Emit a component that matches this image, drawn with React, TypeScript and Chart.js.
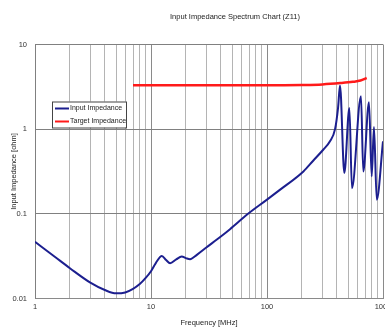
import React, { useEffect, useRef } from "react";
import { Chart, registerables } from "chart.js";

Chart.register(...registerables);

const chartTitle = "Input Impedance Spectrum Chart (Z11)";
const xTitle = "Frequency [MHz]";
const yTitle = "Input Impedance [ohm]";
const seriesNames = ["Input Impedance", "Target Impedance"];

const inputFreq = [1, 1.5, 2, 3, 4, 5, 6, 7, 8, 9, 10, 11, 12.4, 13.5, 14.6, 16.5, 18.4, 20, 21.7, 25, 30, 40, 48, 68.6, 100, 129, 206, 250, 305, 349, 386, 410, 426, 464, 513, 540, 646, 676, 757, 799, 836, 883, 1000];
const inputZ = [0.0467, 0.0307, 0.0228, 0.0154, 0.0126, 0.0115, 0.0118, 0.013, 0.0148, 0.0175, 0.021, 0.0262, 0.0318, 0.0285, 0.0261, 0.029, 0.0313, 0.03, 0.0291, 0.033, 0.04, 0.054, 0.0659, 0.1, 0.147, 0.192, 0.317, 0.424, 0.571, 0.718, 1.0, 1.8, 3.27, 0.303, 1.78, 0.201, 2.44, 0.317, 2.08, 0.277, 1.06, 0.147, 0.718];

const targetFreq = [7, 50, 100, 200, 300, 430, 550, 640, 724];
const targetZ = [3.3, 3.3, 3.3, 3.33, 3.38, 3.5, 3.62, 3.75, 4.02];

const xTickValues = [1, 2, 3, 4, 5, 6, 7, 8, 9, 10, 20, 30, 40, 50, 60, 70, 80, 90, 100, 200, 300, 400, 500, 600, 700, 800, 900, 1000];
const yTickValues = [0.01, 0.1, 1, 10];

const isDecade = (v: number) => Math.abs(Math.log10(v) - Math.round(Math.log10(v))) < 1e-9;
const FONT = "'Liberation Sans', Arial, sans-serif";

const legendPlugin = {
  id: "insideLegend",
  afterDatasetsDraw(chart: any) {
    const { ctx, chartArea } = chart;
    const x = chartArea.left + 17;
    const y = chartArea.top + 57;
    const w = 74;
    const h = 26;
    ctx.save();
    ctx.fillStyle = "#ffffff";
    ctx.fillRect(x, y, w, h);
    ctx.strokeStyle = "#444444";
    ctx.lineWidth = 1;
    ctx.strokeRect(x + 0.5, y + 0.5, w, h);
    ctx.font = `7px ${FONT}`;
    ctx.textBaseline = "middle";
    chart.data.datasets.forEach((ds: any, i: number) => {
      const cy = y + 7 + i * 13;
      ctx.strokeStyle = ds.borderColor;
      ctx.lineWidth = 2;
      ctx.beginPath();
      ctx.moveTo(x + 3, cy);
      ctx.lineTo(x + 17, cy);
      ctx.stroke();
      ctx.fillStyle = "#222222";
      ctx.fillText(ds.label, x + 18, cy);
    });
    ctx.restore();
  },
};

export default function App() {
  const ref = useRef<HTMLCanvasElement>(null);
  useEffect(() => {
    if (!ref.current) return;
    const chart = new Chart(ref.current, {
      type: "line",
      data: {
        datasets: [
          {
            label: seriesNames[0],
            data: inputFreq.map((f, i) => ({ x: f, y: inputZ[i] })),
            borderColor: "#1c1f8f",
            borderWidth: 2,
            pointRadius: 0,
            cubicInterpolationMode: "monotone",
            fill: false,
          },
          {
            label: seriesNames[1],
            data: targetFreq.map((f, i) => ({ x: f, y: targetZ[i] })),
            borderColor: "#ff1a1a",
            borderWidth: 2.5,
            pointRadius: 0,
            cubicInterpolationMode: "monotone",
            fill: false,
          },
        ],
      },
      options: {
        animation: false,
        responsive: false,
        maintainAspectRatio: false,
        layout: { padding: 0 },
        plugins: {
          legend: { display: false },
          tooltip: { enabled: false },
          title: {
            display: true,
            text: chartTitle,
            color: "#222",
            font: { family: FONT, size: 7.5, weight: "normal" },
            padding: { top: 12, bottom: 23.5 },
          },
        },
        scales: {
          x: {
            type: "logarithmic",
            min: 1,
            max: 1000,
            afterBuildTicks: (s: any) => {
              s.ticks = xTickValues.map((v) => ({ value: v }));
            },
            afterFit: (s: any) => {
              s.height = 28.5;
            },
            ticks: {
              autoSkip: false,
              maxRotation: 0,
              padding: 4,
              color: "#333",
              font: { family: FONT, size: 7.5 },
              callback: (v: any) => (isDecade(Number(v)) ? String(Number(v)) : ""),
            },
            grid: {
              drawTicks: false,
              color: (c: any) => (c.tick && isDecade(c.tick.value) ? "#8a8a8a" : "#b4b4b4"),
              lineWidth: 1,
            },
            border: { color: "#8a8a8a" },
            title: {
              display: true,
              text: xTitle,
              color: "#222",
              font: { family: FONT, size: 7.5 },
              padding: { top: 0, bottom: 0 },
            },
          },
          y: {
            type: "logarithmic",
            min: 0.01,
            max: 10,
            afterBuildTicks: (s: any) => {
              s.ticks = yTickValues.map((v) => ({ value: v }));
            },
            afterFit: (s: any) => {
              s.width = 35;
            },
            ticks: {
              padding: 8,
              color: "#333",
              font: { family: FONT, size: 7.5 },
              callback: (v: any) => String(Number(v)),
            },
            grid: { drawTicks: false, color: "#808080", lineWidth: 1 },
            border: { color: "#808080" },
            title: {
              display: true,
              text: yTitle,
              color: "#222",
              font: { family: FONT, size: 7.5 },
              padding: { top: 9, bottom: 0 },
            },
          },
          yRight: {
            type: "linear",
            position: "right",
            display: true,
            min: 0,
            max: 1,
            afterFit: (s: any) => {
              s.width = 87;
            },
            ticks: { display: false },
            grid: { display: false, drawTicks: false },
            border: { display: false },
          },
        },
      },
      plugins: [legendPlugin],
    });
    return () => chart.destroy();
  }, []);
  return (
    <div style={{ position: "fixed", left: 0, top: 0, width: 385, height: 327, overflow: "hidden", background: "#fff" }}>
      <canvas ref={ref} width={470} height={327} style={{ display: "block" }} />
    </div>
  );
}
